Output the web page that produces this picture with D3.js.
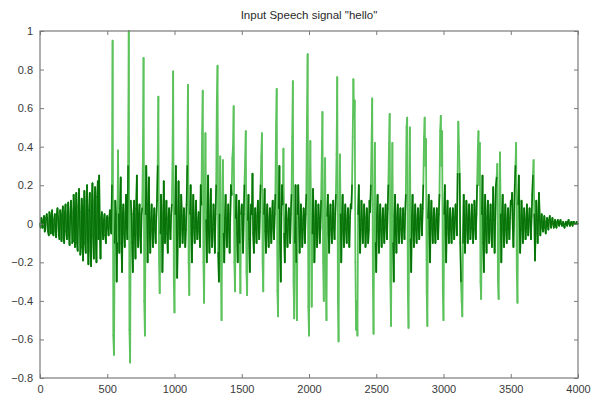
<!DOCTYPE html>
<html>
<head>
<meta charset="utf-8">
<script src="https://cdn.jsdelivr.net/npm/d3@7"></script>
<style>
  body { margin: 0; background: #fff; }
  svg text { font-family: "Liberation Sans", Arial, sans-serif; }
</style>
</head>
<body>
<svg id="chart" width="595" height="403"></svg>
<script>
// chart data
var title = 'Input Speech signal "hello"';
var sampleStep = 10;          // amplitude[] is every 10th sample
var xTicks = [0, 500, 1000, 1500, 2000, 2500, 3000, 3500, 4000];
var yTicks = [-0.8, -0.6, -0.4, -0.2, 0, 0.2, 0.4, 0.6, 0.8, 1];

// amplitude at samples 0, 10, 20 ... 4000
var amplitude = [
  0.00, 0.03, -0.02, 0.04, -0.03, 0.05, -0.04, 0.06, -0.05, 0.07,        // 0
  -0.06, 0.05, -0.07, 0.08, -0.06, 0.07, -0.09, 0.09, -0.10, 0.10,       // 100
  -0.08, 0.11, -0.11, 0.12, -0.10, 0.15, -0.12, 0.16, -0.14, 0.18,       // 200
  -0.16, 0.13, -0.19, 0.17, -0.15, 0.20, -0.21, 0.16, -0.22, 0.21,       // 300
  -0.18, 0.19, -0.20, 0.22, 0.25, -0.18, 0.06, -0.08, 0.05, -0.10,       // 400
  0.04, -0.06, 0.07, -0.05, 0.95, -0.68, 0.12, -0.30, 0.38, -0.15,       // 500
  0.24, -0.25, 0.10, -0.12, 0.15, -0.08, 1.00, -0.72, 0.05, -0.25,       // 600
  0.12, -0.18, 0.25, -0.12, 0.10, -0.15, 0.08, 0.86, -0.58, 0.30,        // 700
  -0.20, 0.24, -0.15, 0.10, -0.12, 0.08, -0.10, 0.12, 0.66, -0.36,       // 800
  0.15, -0.25, 0.22, -0.10, 0.12, -0.15, 0.08, -0.08, 0.10, 0.79,        // 900
  -0.46, 0.30, -0.28, 0.22, -0.12, 0.15, -0.10, 0.08, -0.12, 0.10,       // 1000
  0.72, -0.37, 0.20, -0.20, 0.15, -0.10, 0.12, -0.08, 0.06, -0.12,       // 1100
  0.10, 0.69, -0.41, 0.47, -0.20, 0.25, -0.15, 0.18, -0.12, 0.10,        // 1200
  -0.15, 0.20, 0.82, -0.30, 0.35, -0.50, 0.33, -0.20, 0.15, -0.12,       // 1300
  0.10, -0.15, 0.20, 0.34, 0.61, -0.35, 0.15, -0.20, 0.12, -0.36,        // 1400
  0.10, -0.15, 0.20, 0.48, -0.37, 0.15, -0.25, 0.10, 0.26, -0.15,        // 1500
  0.08, -0.10, 0.12, -0.08, 0.20, 0.47, -0.35, 0.18, -0.15, 0.10,        // 1600
  -0.12, 0.08, -0.10, 0.12, -0.08, 0.15, 0.70, -0.48, 0.30, -0.30,       // 1700
  0.20, 0.39, -0.20, 0.10, -0.12, 0.08, -0.10, 0.15, 0.74, -0.49,        // 1800
  0.20, -0.50, 0.20, -0.15, 0.10, -0.12, 0.08, -0.10, 0.15, 0.88,        // 1900
  -0.58, 0.43, -0.43, 0.18, -0.20, 0.12, -0.12, 0.10, -0.10, 0.12,       // 2000
  0.58, -0.40, 0.34, -0.50, 0.15, -0.15, 0.10, -0.10, 0.12, -0.08,       // 2100
  0.15, 0.76, -0.61, 0.36, -0.20, 0.15, -0.12, 0.10, -0.10, 0.08,        // 2200
  -0.12, 0.10, 0.20, 0.75, 0.64, -0.55, -0.58, 0.20, -0.15, 0.12,        // 2300
  -0.10, 0.10, -0.12, 0.08, -0.10, 0.12, 0.20, 0.65, -0.57, 0.42,        // 2400
  -0.25, 0.15, -0.15, 0.10, -0.12, 0.08, -0.10, 0.10, -0.08, 0.20,       // 2500
  0.57, -0.53, 0.42, -0.30, 0.15, -0.15, 0.10, -0.10, 0.08, -0.10,       // 2600
  0.08, -0.08, 0.15, 0.55, -0.54, 0.50, -0.25, 0.15, -0.12, 0.10,        // 2700
  -0.10, 0.08, -0.08, 0.10, -0.06, 0.20, 0.55, 0.44, -0.53, 0.15,        // 2800
  -0.20, 0.12, -0.10, 0.08, -0.10, 0.08, -0.08, 0.15, 0.56, 0.48,        // 2900
  -0.50, 0.20, -0.20, 0.12, -0.10, 0.08, -0.10, 0.08, -0.08, 0.10,       // 3000
  -0.06, 0.53, 0.26, -0.30, -0.48, 0.15, -0.15, 0.12, -0.10, 0.10,       // 3100
  -0.08, 0.10, -0.10, 0.12, -0.08, 0.20, 0.48, 0.42, -0.39, 0.25,        // 3200
  -0.25, 0.15, -0.15, 0.12, -0.10, 0.10, -0.12, 0.19, -0.15, 0.20,       // 3300
  0.31, -0.39, 0.37, -0.20, 0.15, -0.12, 0.10, -0.10, 0.08, -0.08,       // 3400
  0.12, 0.16, -0.12, 0.20, 0.42, -0.41, 0.25, -0.15, 0.12, -0.10,        // 3500
  0.08, -0.08, 0.10, -0.06, 0.08, -0.08, 0.15, 0.33, -0.19, 0.12,        // 3600
  -0.10, 0.16, -0.06, 0.05, -0.04, 0.04, -0.05, 0.03, -0.03, 0.04,       // 3700
  -0.02, 0.03, -0.02, 0.02, -0.02, 0.02, -0.01, 0.02, -0.01, 0.01,       // 3800
  -0.02, 0.01, -0.01, 0.02, -0.01, 0.01, -0.01, 0.01, 0.00, 0.01,        // 3900
  0.00                                                                   // 4000
];

// amplitude at the in-between samples 5, 15, 25 ... 3995
var amplitudeMid = [
  -0.02, 0.01, 0.02, -0.04, 0.03, 0.02, -0.06, 0.04, 0.03, -0.05,        // 0
  0.02, -0.04, 0.05, 0.03, -0.08, 0.04, 0.05, -0.07, 0.06, -0.04,        // 100
  0.05, -0.06, 0.04, 0.06, -0.09, 0.08, 0.05, -0.10, 0.09, 0.06,         // 200
  -0.12, 0.08, 0.05, -0.10, 0.12, -0.08, 0.07, -0.14, 0.10, -0.06,       // 300
  0.12, -0.10, 0.14, -0.08, -0.05, 0.03, -0.04, 0.02, -0.06, 0.03,       // 400
  -0.02, 0.03, -0.03, 0.20, -0.58, -0.10, 0.05, -0.10, 0.05, 0.08,       // 500
  -0.10, 0.05, -0.05, 0.05, -0.02, 0.30, -0.55, 0.12, -0.10, 0.05,       // 600
  -0.06, 0.08, -0.05, 0.05, -0.06, 0.05, 0.35, -0.40, 0.05, 0.10,        // 700
  0.05, -0.05, 0.02, -0.04, 0.03, -0.03, 0.04, 0.30, -0.20, -0.05,       // 800
  0.05, -0.08, 0.05, 0.02, -0.05, 0.03, -0.02, 0.04, 0.31, -0.30,        // 900
  0.05, 0.05, -0.05, 0.03, -0.03, 0.04, -0.03, 0.02, -0.03, 0.30,        // 1000
  -0.20, 0.05, -0.05, 0.04, -0.02, 0.03, -0.02, 0.01, -0.04, 0.20,       // 1100
  0.47, -0.20, 0.10, 0.02, 0.06, -0.05, 0.04, -0.04, -0.03, 0.03,        // 1200
  0.05, 0.65, -0.15, 0.05, -0.20, 0.10, -0.05, 0.03, -0.04, 0.02,        // 1300
  -0.03, 0.05, 0.15, 0.40, -0.20, 0.03, -0.05, 0.02, -0.10, 0.05,        // 1400
  -0.03, 0.05, 0.33, -0.25, 0.02, -0.08, 0.03, 0.05, -0.05, 0.02,        // 1500
  -0.03, 0.04, -0.02, 0.06, 0.35, -0.20, 0.05, -0.04, 0.03, -0.04,       // 1600
  0.02, -0.03, 0.04, -0.02, 0.05, 0.51, -0.35, 0.08, -0.10, 0.05,        // 1700
  0.10, -0.05, 0.03, -0.04, 0.02, -0.03, 0.05, 0.45, -0.30, -0.10,       // 1800
  -0.20, 0.05, 0.03, -0.04, 0.02, -0.03, 0.04, 0.05, 0.55, -0.43,        // 1900
  0.18, 0.05, -0.05, 0.04, -0.05, 0.03, -0.02, 0.03, -0.02, 0.34,        // 2000
  -0.20, 0.10, -0.30, 0.04, -0.05, 0.03, -0.03, 0.04, -0.02, 0.05,       // 2100
  0.36, -0.40, 0.10, 0.05, 0.03, -0.04, 0.03, -0.03, 0.02, -0.04,        // 2200
  0.03, 0.08, 0.45, 0.55, -0.20, -0.40, 0.05, 0.02, -0.03, 0.02,         // 2300
  -0.03, 0.03, -0.04, 0.02, -0.03, 0.06, 0.42, -0.30, 0.10, -0.10,       // 2400
  0.04, -0.04, 0.03, -0.03, 0.02, -0.03, 0.02, -0.02, 0.08, 0.42,        // 2500
  -0.30, 0.10, -0.10, 0.04, -0.04, 0.03, -0.03, 0.02, -0.03, 0.02,       // 2600
  -0.02, 0.05, 0.50, -0.35, 0.10, -0.08, 0.04, -0.03, 0.03, -0.03,       // 2700
  0.02, -0.02, 0.03, 0.02, 0.08, 0.45, 0.30, -0.35, 0.03, -0.05,         // 2800
  0.03, -0.02, 0.03, -0.03, 0.02, -0.02, 0.05, 0.48, 0.30, -0.35,        // 2900
  0.05, -0.05, 0.04, -0.02, 0.03, -0.03, 0.02, -0.02, 0.03, 0.02,        // 3000
  0.26, 0.40, -0.10, -0.40, -0.10, 0.03, -0.03, 0.03, -0.02, 0.02,       // 3100
  -0.02, 0.03, -0.03, 0.04, 0.05, 0.38, 0.20, -0.30, 0.05, -0.10,        // 3200
  0.05, -0.04, 0.03, -0.03, 0.02, -0.03, 0.05, 0.02, 0.03, 0.24,         // 3300
  -0.30, 0.10, 0.05, 0.04, -0.03, 0.03, -0.03, 0.02, -0.02, 0.03,        // 3400
  0.10, -0.02, 0.05, 0.30, -0.25, 0.10, 0.04, -0.03, 0.03, -0.02,        // 3500
  0.02, -0.02, 0.03, 0.02, 0.01, 0.04, 0.25, 0.05, -0.05, 0.02,          // 3600
  0.04, 0.04, 0.01, -0.02, 0.01, -0.02, 0.01, -0.01, 0.02, 0.01,         // 3700
  0.01, 0.00, 0.01, -0.01, 0.01, 0.00, 0.01, 0.00, 0.00, -0.01,          // 3800
  0.00, 0.00, 0.01, 0.00, 0.00, 0.00, 0.01, 0.00, 0.00, 0.00             // 3900
];

// layout
var svg = d3.select('#chart');
var margin = {left: 40, right: 17, top: 31, bottom: 25};
var W = 595, H = 403;
var plotW = W - margin.left - margin.right;
var plotH = H - margin.top - margin.bottom;

var x = d3.scaleLinear().domain([0, 4000]).range([0, plotW]);
var y = d3.scaleLinear().domain([-0.8, 1]).range([plotH, 0]);

var g = svg.append('g')
  .attr('transform', 'translate(' + margin.left + ',' + margin.top + ')');

// merge the two sample lists into one series
var pts = [];
amplitude.forEach(function(v, i) {
  pts.push([i * sampleStep, v]);
  if (i < amplitudeMid.length) pts.push([i * sampleStep + sampleStep / 2, amplitudeMid[i]]);
});

// the original is a blurred thumbnail: lone tall strokes came out light green,
// the dense low part near zero dark green. draw all light, then the low segments dark
var segs = d3.pairs(pts);
var lowSegs = segs.filter(function(d) {
  return Math.max(Math.abs(d[0][1]), Math.abs(d[1][1])) <= 0.3;
});

function drawSegs(data, colour, width) {
  g.append('g')
    .selectAll('line')
    .data(data)
    .enter()
    .append('line')
    .attr('x1', function(d) { return x(d[0][0]); })
    .attr('y1', function(d) { return y(d[0][1]); })
    .attr('x2', function(d) { return x(d[1][0]); })
    .attr('y2', function(d) { return y(d[1][1]); })
    .attr('stroke', colour)
    .attr('stroke-width', width)
    .attr('stroke-linecap', 'round');
}
drawSegs(segs, '#5cc25c', 1.8);
drawSegs(lowSegs, '#087308', 1.5);

// axes, ticks pointing inwards on all four sides (matlab style)
var axisColor = '#7a7a7a';
var tickLen = 4;

function styleAxis(sel) {
  sel.select('.domain').remove();
  sel.selectAll('.tick line').attr('stroke', axisColor);
  sel.selectAll('.tick text')
    .attr('fill', '#3a3a3a')
    .style('font-size', '11px');
}

g.append('g')
  .attr('transform', 'translate(0,' + plotH + ')')
  .call(d3.axisBottom(x).tickValues(xTicks).tickSizeInner(-tickLen).tickSizeOuter(0).tickPadding(7)
    .tickFormat(d3.format('d')))
  .call(styleAxis);

g.append('g')
  .call(d3.axisTop(x).tickValues(xTicks).tickSizeInner(-tickLen).tickSizeOuter(0).tickFormat(''))
  .call(styleAxis);

g.append('g')
  .call(d3.axisLeft(y).tickValues(yTicks).tickSizeInner(-tickLen).tickSizeOuter(0).tickPadding(7)
    .tickFormat(function(d) { return d === 0 ? '0' : d3.format('')(+d.toFixed(1)); }))
  .call(styleAxis);

g.append('g')
  .attr('transform', 'translate(' + plotW + ',0)')
  .call(d3.axisRight(y).tickValues(yTicks).tickSizeInner(-tickLen).tickSizeOuter(0).tickFormat(''))
  .call(styleAxis);

// box
g.append('rect')
  .attr('width', plotW)
  .attr('height', plotH)
  .attr('fill', 'none')
  .attr('stroke', axisColor)
  .attr('stroke-width', 1.2);

// title
svg.append('text')
  .attr('x', margin.left + plotW / 2)
  .attr('y', 19)
  .attr('text-anchor', 'middle')
  .attr('fill', '#2a2a2a')
  .style('font-size', '11.5px')
  .text(title);
</script>
</body>
</html>
